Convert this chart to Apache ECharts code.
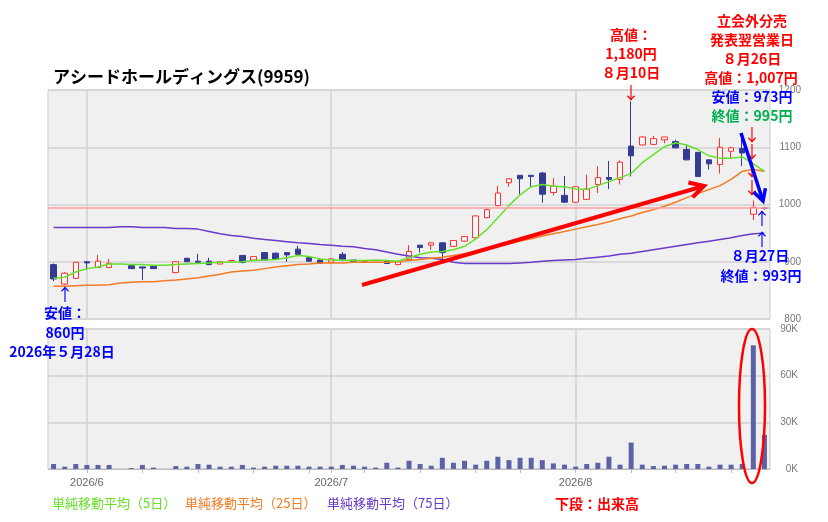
<!DOCTYPE html>
<html>
<head>
<meta charset="utf-8">
<title>アシードホールディングス(9959)</title>
<script src="https://cdn.jsdelivr.net/npm/echarts@6/dist/echarts.min.js"></script>
<style>
html, body { margin: 0; padding: 0; background: #fff; }
#main { width: 828px; height: 522px; }
</style>
</head>
<body>
<div id="main"></div>
<script>
// 日付（営業日）
var dates = [
    '2026/05/27', '2026/05/28', '2026/05/29',
    '2026/06/01', '2026/06/02', '2026/06/03', '2026/06/04', '2026/06/05',
    '2026/06/08', '2026/06/09', '2026/06/10', '2026/06/11', '2026/06/12',
    '2026/06/15', '2026/06/16', '2026/06/17', '2026/06/18', '2026/06/19',
    '2026/06/22', '2026/06/23', '2026/06/24', '2026/06/25', '2026/06/26',
    '2026/06/29', '2026/06/30', '2026/07/01', '2026/07/02', '2026/07/03',
    '2026/07/06', '2026/07/07', '2026/07/08', '2026/07/09', '2026/07/10',
    '2026/07/13', '2026/07/14', '2026/07/15', '2026/07/16', '2026/07/17',
    '2026/07/21', '2026/07/22', '2026/07/23', '2026/07/24',
    '2026/07/27', '2026/07/28', '2026/07/29', '2026/07/30', '2026/07/31',
    '2026/08/03', '2026/08/04', '2026/08/05', '2026/08/06', '2026/08/07',
    '2026/08/10', '2026/08/12', '2026/08/13', '2026/08/14',
    '2026/08/17', '2026/08/18', '2026/08/19', '2026/08/20', '2026/08/21',
    '2026/08/24', '2026/08/25', '2026/08/26', '2026/08/27'
];
// 四本値（null は約定なし）
var opens = [895, 861, 871, 900, 890, 890, null, 893, 891, 892, null, 881, 906, 901, 901, 896, 902, 911, 903, 916, 915, 916, 922, 907, 903, 899, 913, 903, 900, 902, 901, 895, 904, 929, 929, 933, 927, 936, 942, 977, 998, 1038, 1051, 1051, 1055, 1021, 1016, 1004, 1009, 1035, 1047, 1044, 1102, 1104, 1105, 1113, 1110, 1096, 1091, 1078, 1070, 1093, 1098, 983, 994];
var highs = [897, 882, 900, 900, 912, 905, null, 893, 891, 892, null, 901, 907, 914, 907, 900, 903, 912, 909, 917, 916, 917, 928, 908, 904, 906, 917, 903, 901, 902, 901, 901, 929, 929, 934, 934, 938, 945, 981, 992, 1033, 1045, 1051, 1051, 1057, 1046, 1050, 1032, 1052, 1067, 1076, 1077, 1180, 1119, 1120, 1118, 1113, 1105, 1092, 1079, 1116, 1101, 1120, 1007, 996];
var lows = [866, 860, 870, 886, 889, 889, null, 888, 868, 888, null, 880, 900, 899, 894, 896, 901, 897, 903, 902, 903, 900, 910, 900, 896, 899, 901, 900, 899, 902, 896, 895, 903, 916, 921, 904, 926, 935, 941, 976, 997, 1031, 1018, 1029, 1003, 1016, 1003, 1003, 1008, 1020, 1027, 1035, 1049, 1103, 1104, 1107, 1098, 1077, 1048, 1061, 1054, 1081, 1067, 973, 991];
var closes = [870, 880, 899, 898, 901, 897, null, 888, 889, 888, null, 900, 900, 899, 895, 900, 902, 899, 909, 903, 904, 912, 913, 901, 897, 905, 904, 900, 900, 902, 897, 900, 918, 925, 933, 916, 937, 944, 980, 991, 1020, 1045, 1045, 1049, 1018, 1032, 1004, 1031, 1027, 1047, 1044, 1074, 1085, 1118, 1115, 1118, 1099, 1078, 1049, 1071, 1100, 1099, 1090, 995, 993];
// 出来高（株）
var volumes = [3200, 1500, 3200, 2600, 2600, 2600, 0, 600, 2600, 900, 0, 1900, 1500, 3200, 2800, 1500, 1500, 2600, 900, 1500, 2100, 2100, 2100, 1500, 1500, 1500, 2600, 2100, 1500, 900, 4000, 900, 5300, 3200, 2100, 7200, 4000, 5300, 2800, 5300, 7900, 5700, 7200, 7200, 5700, 3600, 2800, 1500, 3200, 4000, 7900, 2800, 17000, 2800, 1900, 2100, 2800, 3200, 3200, 1500, 2800, 2800, 3200, 79500, 22000];
// 単純移動平均（チャートから読み取り）
var ma5 = [871, 873, 882, 888, 891, 896, 896, 895, 895, 894, 894, 895, 896, 897, 898, 899, 899, 900, 902, 903, 904, 907, 911, 909, 905, 903, 903, 902, 902, 903, 902, 901, 907, 913, 917, 918, 921, 927, 940, 956, 977, 998, 1017, 1031, 1035, 1032, 1031, 1027, 1026, 1033, 1040, 1047, 1054, 1073, 1087, 1101, 1108, 1104, 1096, 1085, 1081, 1081, 1083, 1071, 1058];
var ma25 = [857, 857, 858, 859, 859, 860, 863, 864, 865, 865, 867, 868, 870, 872, 875, 878, 882, 884, 885, 888, 891, 893, 895, 896, 898, 898, 898, 899, 899, 899, 899, 900, 902, 904, 906, 908, 911, 914, 918, 922, 927, 931, 936, 940, 945, 949, 953, 957, 961, 965, 970, 975, 980, 986, 991, 997, 1004, 1012, 1019, 1026, 1033, 1044, 1058, 1061, 1058];
var ma75 = [960, 960, 960, 960, 960, 960, 961, 961, 960, 960, 960, 958, 958, 957, 953, 949, 946, 944, 941, 939, 937, 935, 933, 932, 930, 929, 927, 926, 923, 921, 917, 913, 910, 907, 906, 904, 899, 897, 897, 897, 897, 897, 898, 899, 901, 902, 903, 904, 906, 908, 910, 913, 915, 918, 921, 924, 927, 930, 933, 936, 939, 942, 946, 949, 950];
// 水平線（終値付近）
var refPrice = 995;

var FONT = '"Noto Sans CJK JP", sans-serif';
var RED = '#ff0000';
var BLUE = '#0000ff';
var GREEN = '#00b050';
var C_MA5 = '#66e02a';
var C_MA25 = '#f47b25';
var C_MA75 = '#6a3ac9';

// ローソク足データ
var kData = [];
for (var i = 0; i < dates.length; i++) {
    if (opens[i] === null) {
        kData.push(['-', '-', '-', '-']);
    } else {
        kData.push([opens[i], closes[i], lows[i], highs[i]]);
    }
}

function toDate(s) {
    var p = s.split('/');
    return new Date(+p[0], +p[1] - 1, +p[2]);
}
function isMonthStart(idx) {
    if (idx === 0) return false;
    return toDate(dates[idx]).getMonth() !== toDate(dates[idx - 1]).getMonth();
}
function isWeekStart(idx) {
    if (idx === 0) return false;
    return toDate(dates[idx]).getDay() < toDate(dates[idx - 1]).getDay();
}

// 注記用
function txt(x, y, text, color, size, weight, align) {
    return {
        type: 'text', x: x, y: y, z: 100,
        style: {
            text: text, fill: color,
            font: (weight || 'bold') + ' ' + (size || 14) + 'px ' + FONT,
            align: align || 'center', verticalAlign: 'middle'
        }
    };
}
function arrow(x1, y1, x2, y2, color, w, head) {
    var a = Math.atan2(y2 - y1, x2 - x1);
    var p1 = [x2 - head * Math.cos(a - 0.5), y2 - head * Math.sin(a - 0.5)];
    var p2 = [x2 - head * Math.cos(a + 0.5), y2 - head * Math.sin(a + 0.5)];
    return [
        {type: 'line', z: 100, shape: {x1: x1, y1: y1, x2: x2, y2: y2}, style: {stroke: color, lineWidth: w}},
        {type: 'polyline', z: 100, shape: {points: [p1, [x2, y2], p2]}, style: {stroke: color, lineWidth: w, fill: null}}
    ];
}

var graphics = [
    // 高値 8/10
    txt(631, 35, '高値：', RED),
    txt(631, 54, '1,180円', RED),
    txt(631, 73, '８月10日', RED),
    txt(631, 93, '↓', RED, 17, 'normal'),
    // 8/26
    txt(752, 21, '立会外分売', RED),
    txt(752, 40, '発表翌営業日', RED),
    txt(752, 59, '８月26日', RED),
    txt(751, 78, '高値：1,007円', RED),
    txt(752, 97, '安値：973円', BLUE),
    txt(752, 116, '終値：995円', GREEN),
    txt(752, 135, '↓', RED, 17, 'normal'),
    txt(752, 152, '↓', RED, 17, 'normal'),
    txt(752, 170, '↓', RED, 17, 'normal'),
    txt(752, 188, '↓', RED, 17, 'normal'),
    // 8/27
    txt(762, 219, '↑', BLUE, 17, 'normal'),
    txt(762, 240, '↑', BLUE, 17, 'normal'),
    txt(760, 256, '８月27日', BLUE),
    txt(761, 276, '終値：993円', BLUE),
    // 安値 5/28
    txt(65, 295, '↑', BLUE, 17, 'normal'),
    txt(65, 313, '安値：', BLUE),
    txt(65, 333, '860円', BLUE),
    txt(62, 352, '2026年５月28日', BLUE),
    // 下段
    txt(597, 504, '下段：出来高', RED),
    // 凡例
    txt(52, 503, '単純移動平均（5日）', C_MA5, 13, 'normal', 'left'),
    txt(185, 503, '単純移動平均（25日）', C_MA25, 13, 'normal', 'left'),
    txt(327, 503, '単純移動平均（75日）', C_MA75, 13, 'normal', 'left'),
    // 出来高急増の囲み
    {type: 'ellipse', z: 100, shape: {cx: 752, cy: 406, rx: 13, ry: 77}, style: {stroke: RED, lineWidth: 2.5, fill: null}}
];
graphics = graphics.concat(arrow(362, 285, 704, 186, RED, 4, 16));
graphics = graphics.concat(arrow(741, 133, 763, 201, BLUE, 3.5, 13));

var chart = echarts.init(document.getElementById('main'));
chart.setOption({
    animation: false,
    backgroundColor: '#ffffff',
    textStyle: {fontFamily: FONT},
    title: {
        text: 'アシードホールディングス(9959)',
        left: 48, top: 63,
        textStyle: {fontSize: 17, fontWeight: 'bold', color: '#000', fontFamily: FONT}
    },
    grid: [
        {left: 48, top: 90, width: 722, height: 229, show: true, backgroundColor: '#f0f0f0', borderColor: '#cccccc', borderWidth: 1},
        {left: 48, top: 329, width: 722, height: 140, show: true, backgroundColor: '#f0f0f0', borderColor: '#cccccc', borderWidth: 1}
    ],
    xAxis: [
        {
            type: 'category', gridIndex: 0, data: dates,
            axisLine: {show: false}, axisTick: {show: false}, axisLabel: {show: false},
            splitLine: {show: true, alignWithLabel: true, interval: function (idx) { return isMonthStart(idx); },
                lineStyle: {color: '#d2d2d2', width: 1.5}}
        },
        {
            type: 'category', gridIndex: 1, data: dates,
            axisLine: {show: true, lineStyle: {color: '#bbbbbb'}},
            axisTick: {show: true, alignWithLabel: true, length: 4, lineStyle: {color: '#bbbbbb'},
                interval: function (idx) { return isMonthStart(idx) || isWeekStart(idx); }},
            axisLabel: {
                show: true, margin: 8, color: '#666', fontSize: 11, fontFamily: '"Liberation Sans", sans-serif',
                interval: function (idx) { return isMonthStart(idx); },
                formatter: function (v) {
                    var d = toDate(v);
                    return d.getFullYear() + '/' + (d.getMonth() + 1);
                }
            },
            splitLine: {show: true, alignWithLabel: true, interval: function (idx) { return isMonthStart(idx); },
                lineStyle: {color: '#d2d2d2', width: 1.5}}
        }
    ],
    yAxis: [
        {
            type: 'value', gridIndex: 0, position: 'right', min: 800, max: 1200, interval: 100,
            axisLine: {show: false}, axisTick: {show: false},
            axisLabel: {color: '#777', fontSize: 10, align: 'right', margin: 31, fontFamily: '"Liberation Sans", sans-serif',
                formatter: function (v) { return String(v); }},
            splitLine: {lineStyle: {color: '#d2d2d2', width: 1.5}}
        },
        {
            type: 'value', gridIndex: 1, position: 'right', min: 0, max: 90000, interval: 30000,
            axisLine: {show: false}, axisTick: {show: false},
            axisLabel: {color: '#777', fontSize: 10, align: 'right', margin: 28, fontFamily: '"Liberation Sans", sans-serif',
                formatter: function (v) { return (v / 1000) + 'K'; }},
            splitLine: {lineStyle: {color: '#d2d2d2', width: 1.5}}
        }
    ],
    series: [
        {
            name: '株価', type: 'candlestick', xAxisIndex: 0, yAxisIndex: 0,
            data: kData, barWidth: 6,
            itemStyle: {color: '#f7f7f7', color0: '#343b92', borderColor: '#ff3030', borderColor0: '#343b92', borderWidth: 1},
            markLine: {
                silent: true, symbol: ['none', 'none'], label: {show: false},
                lineStyle: {color: '#ff9c9c', width: 1.5, type: 'solid'},
                data: [{yAxis: refPrice}]
            }
        },
        {
            name: '単純移動平均（75日）', type: 'line', xAxisIndex: 0, yAxisIndex: 0, data: ma75,
            showSymbol: false, lineStyle: {color: C_MA75, width: 1.5}, itemStyle: {color: C_MA75}
        },
        {
            name: '単純移動平均（25日）', type: 'line', xAxisIndex: 0, yAxisIndex: 0, data: ma25,
            showSymbol: false, lineStyle: {color: C_MA25, width: 1.5}, itemStyle: {color: C_MA25}
        },
        {
            name: '単純移動平均（5日）', type: 'line', xAxisIndex: 0, yAxisIndex: 0, data: ma5,
            showSymbol: false, lineStyle: {color: C_MA5, width: 1.5}, itemStyle: {color: C_MA5}
        },
        {
            name: '出来高', type: 'bar', xAxisIndex: 1, yAxisIndex: 1, data: volumes,
            barWidth: 5, itemStyle: {color: '#5b63a6'}
        }
    ],
    graphic: graphics
});
</script>
</body>
</html>
